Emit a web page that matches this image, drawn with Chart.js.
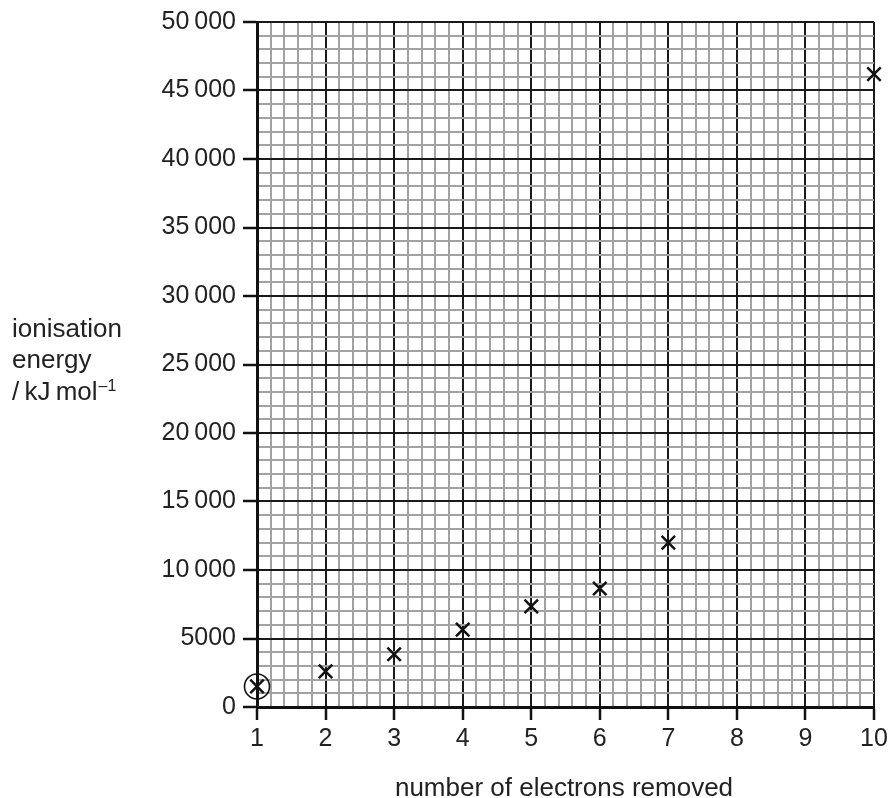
<!DOCTYPE html>
<html>
<head>
<meta charset="utf-8">
<script src="https://cdn.jsdelivr.net/npm/chart.js@4"></script>
<style>
html, body { margin: 0; padding: 0; background: #fff; }
</style>
</head>
<body>
<canvas id="ie-chart" width="892" height="798"></canvas>
<script>
// Successive ionisation energies
const electronsRemoved = [1, 2, 3, 4, 5, 6, 7, 10];
const ionisationEnergy = [1500, 2600, 3850, 5650, 7350, 8650, 12000, 46200];
// the first point is also ringed on the sheet
const circledIndex = [0];

const yTickLabels = ['0', '5000', '10\u2009000', '15\u2009000', '20\u2009000', '25\u2009000',
    '30\u2009000', '35\u2009000', '40\u2009000', '45\u2009000', '50\u2009000'];
const xTickLabels = ['1', '2', '3', '4', '5', '6', '7', '8', '9', '10'];

const FONT = "'Liberation Sans', Arial, sans-serif";
Chart.defaults.font.family = FONT;
Chart.defaults.color = '#222';

// graph paper: 5 small squares to each big one
const MINOR = 5;

function gridTicks(labels, step) {
    const out = [];
    const n = (labels.length - 1) * MINOR;
    const start = parseFloat(labels[0].replace(/\s/g, ''));
    for (let i = 0; i <= n; i++) {
        out.push({ value: start + i * step / MINOR, major: i % MINOR === 0, idx: i / MINOR });
    }
    return out;
}

// axis titles drawn by hand: the y one is horizontal and spread over lines
const titlePlugin = {
    id: 'titles',
    afterDraw(chart) {
        const c = chart.ctx;
        c.save();
        c.fillStyle = '#222';
        c.font = '26px ' + FONT;
        c.textAlign = 'left';
        c.textBaseline = 'alphabetic';
        c.fillText('ionisation', 12, 337);
        c.fillText('energy', 12, 368);
        const unit = '/\u2009kJ\u2009mol';
        c.fillText(unit, 12, 400);
        const w = c.measureText(unit).width;
        c.font = '16px ' + FONT;
        c.fillText('\u20131', 12 + w + 1, 391);
        c.font = '26px ' + FONT;
        c.textAlign = 'center';
        c.fillText('number of electrons removed', 564, 796);
        c.restore();
    }
};

const isMajor = c => c.tick && c.tick.major;

const ctx = document.getElementById('ie-chart').getContext('2d');
new Chart(ctx, {
    type: 'scatter',
    data: {
        datasets: [{
            data: electronsRemoved.map((x, i) => ({ x: x, y: ionisationEnergy[i] })),
            pointStyle: 'crossRot',
            radius: 9.5,
            borderWidth: 2.5,
            borderColor: '#111',
            clip: false
        }, {
            data: circledIndex.map(i => ({ x: electronsRemoved[i], y: ionisationEnergy[i] })),
            pointStyle: 'circle',
            radius: 12.5,
            borderWidth: 1.6,
            borderColor: '#111',
            backgroundColor: 'rgba(0,0,0,0)',
            clip: false
        }]
    },
    options: {
        responsive: false,
        animation: false,
        layout: { padding: { top: 22, right: 18, left: 0, bottom: 0 } },
        plugins: {
            legend: { display: false },
            tooltip: { enabled: false }
        },
        scales: {
            x: {
                type: 'linear',
                min: 1,
                max: 10,
                afterFit: s => { s.height = 91; },
                afterBuildTicks: s => { s.ticks = gridTicks(xTickLabels, 1); },
                border: { display: true, color: '#111', width: 3 },
                grid: {
                    color: c => isMajor(c) ? '#1a1a1a' : '#a2a2a2',
                    lineWidth: c => isMajor(c) ? 2 : 2,
                    tickColor: c => isMajor(c) ? '#111' : 'rgba(0,0,0,0)',
                    tickLength: 13,
                    tickWidth: 2.5
                },
                ticks: {
                    autoSkip: false,
                    maxRotation: 0,
                    padding: 4,
                    font: { size: 25 },
                    color: '#222',
                    callback: (v, i, ticks) => ticks[i].major ? xTickLabels[ticks[i].idx] : ''
                }
            },
            y: {
                min: 0,
                max: 50000,
                afterFit: s => { s.width = 257; },
                afterBuildTicks: s => { s.ticks = gridTicks(yTickLabels, 5000); },
                border: { display: true, color: '#111', width: 3 },
                grid: {
                    color: c => isMajor(c) ? '#1a1a1a' : '#a2a2a2',
                    lineWidth: c => isMajor(c) ? 2 : 2,
                    tickColor: c => isMajor(c) ? '#111' : 'rgba(0,0,0,0)',
                    tickLength: 14,
                    tickWidth: 2.5
                },
                ticks: {
                    autoSkip: false,
                    padding: 7,
                    font: { size: 25 },
                    color: '#222',
                    callback: (v, i, ticks) => ticks[i].major ? yTickLabels[ticks[i].idx] : ''
                }
            }
        }
    },
    plugins: [titlePlugin]
});
</script>
</body>
</html>
